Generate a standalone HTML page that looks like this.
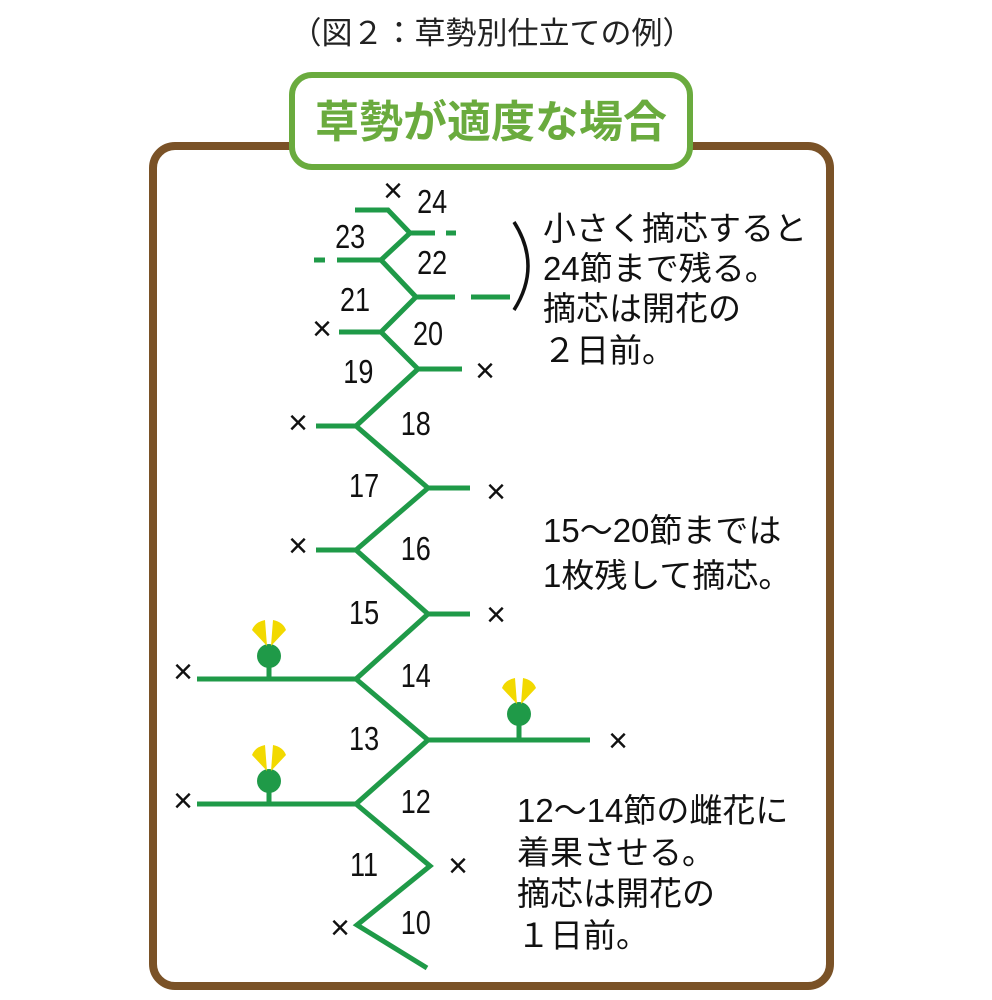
<!DOCTYPE html>
<html><head><meta charset="utf-8"><style>
html,body{margin:0;padding:0;background:#fff;}
svg{display:block;}
text{font-family:"Liberation Sans","Noto Sans CJK JP",sans-serif;}
</style></head><body>
<svg width="992" height="1000" viewBox="0 0 992 1000" xmlns="http://www.w3.org/2000/svg">
<text x="492" y="44" font-size="31" text-anchor="middle" fill="#222">（図２：草勢別仕立ての例）</text>
<rect x="153" y="146" width="677" height="840" rx="22" fill="none" stroke="#7a5227" stroke-width="8"/>
<rect x="292" y="75" width="398" height="92" rx="20" fill="#fff" stroke="#6aab3e" stroke-width="6"/>
<text x="491" y="137" font-size="44" font-weight="bold" text-anchor="middle" fill="#6aab3e">草勢が適度な場合</text>
<g stroke="#1f9a48" stroke-width="5" fill="none" stroke-linejoin="miter">
<polyline points="427,968 357,925 430,866 356,804 428,740 356,679 428,614 356,550 428,488 356,426 418,369 381,332 416,297 381,260 410,233 388,210 355,210"/>
<line x1="410" y1="233" x2="435" y2="233"/><line x1="446" y1="233" x2="456" y2="233"/>
<line x1="381" y1="260" x2="337" y2="260"/><line x1="325" y1="260" x2="314" y2="260"/>
<line x1="416" y1="297" x2="455" y2="297"/><line x1="471" y1="297" x2="510" y2="297"/>
<line x1="381" y1="332" x2="339" y2="332"/>
<line x1="418" y1="369" x2="462" y2="369"/>
<line x1="356" y1="426" x2="316" y2="426"/>
<line x1="428" y1="488" x2="470" y2="488"/>
<line x1="356" y1="550" x2="316" y2="550"/>
<line x1="428" y1="614" x2="470" y2="614"/>
<line x1="356" y1="679" x2="197" y2="679"/>
<line x1="428" y1="740" x2="590" y2="740"/>
<line x1="356" y1="804" x2="197" y2="804"/>
<line x1="269" y1="679" x2="269" y2="660"/>
<line x1="519" y1="740" x2="519" y2="720"/>
<line x1="269" y1="804" x2="269" y2="785"/>
</g>
<g fill="#1f9a48">
<circle cx="269" cy="656" r="12"/><circle cx="519" cy="714" r="12"/><circle cx="269" cy="781" r="12"/>
</g>
<g fill="#f2d900">
<path id="p1" d="M267,646 L252,630 Q255,622 265,620 Z M271,646 L286,630 Q283,622 273,620 Z"/>
<path d="M517,704 L502,688 Q505,680 515,678 Z M521,704 L536,688 Q533,680 523,678 Z"/>
<path d="M267,771 L252,755 Q255,747 265,745 Z M271,771 L286,755 Q283,747 273,745 Z"/>
</g>
<g font-size="34" fill="#111" text-anchor="middle">
<text x="393" y="202">×</text><text x="322" y="340">×</text><text x="485" y="382">×</text>
<text x="298" y="434">×</text><text x="496" y="503">×</text><text x="298" y="557">×</text>
<text x="496" y="626">×</text><text x="183" y="683">×</text><text x="618" y="752">×</text>
<text x="183" y="812">×</text><text x="458" y="877">×</text><text x="340" y="939">×</text>
</g>
<g font-size="33" fill="#111" text-anchor="middle" transform="scale(0.82,1)">
<text x="527" y="213">24</text><text x="427" y="248">23</text><text x="527" y="274">22</text>
<text x="433" y="311">21</text><text x="522" y="345">20</text><text x="437" y="383">19</text>
<text x="507" y="435">18</text><text x="444" y="497">17</text><text x="507" y="560">16</text>
<text x="444" y="624">15</text><text x="507" y="687">14</text><text x="444" y="750">13</text>
<text x="507" y="813">12</text><text x="444" y="876">11</text><text x="507" y="934">10</text>
</g>
<path d="M514,222 Q542,266 514,310" fill="none" stroke="#111" stroke-width="3.5"/>
<g font-size="33" fill="#111">
<text x="543" y="240">小さく摘芯すると</text>
<text x="543" y="280">24節まで残る。</text>
<text x="543" y="320">摘芯は開花の</text>
<text x="543" y="362">２日前。</text>
<text x="543" y="542">15～20節までは</text>
<text x="543" y="587">1枚残して摘芯。</text>
<text x="517" y="822">12～14節の雌花に</text>
<text x="517" y="864">着果させる。</text>
<text x="517" y="905">摘芯は開花の</text>
<text x="517" y="947">１日前。</text>
</g>
</svg>
</body></html>
